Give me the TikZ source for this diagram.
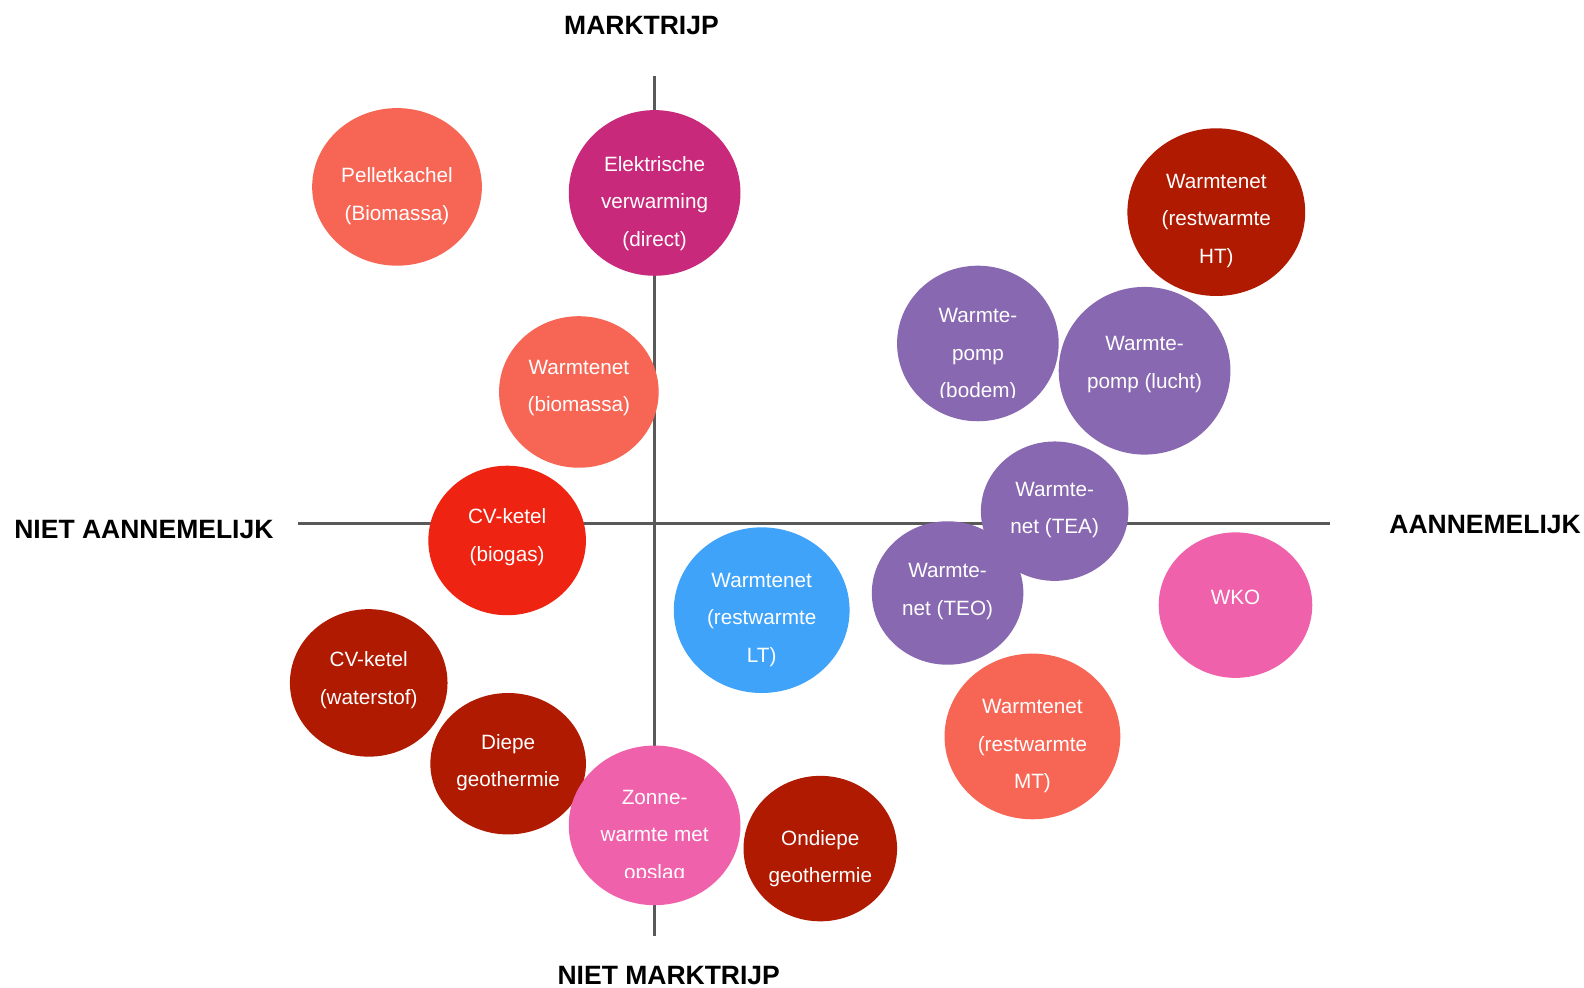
\documentclass[tikz,border=0pt]{standalone}
\usepackage{fontspec}
\setmainfont{Liberation Sans}
\usetikzlibrary{shapes.geometric}
\definecolor{csalmon}{HTML}{F76655}
\definecolor{cmag}{HTML}{C8297B}
\definecolor{cdark}{HTML}{B01A00}
\definecolor{cpurple}{HTML}{8868B0}
\definecolor{cred}{HTML}{EE2312}
\definecolor{cblue}{HTML}{40A3FA}
\definecolor{cpink}{HTML}{F061AB}
\definecolor{caxis}{HTML}{595959}
% name, x, y, rx, ry, colour, text, text y
\newcommand\bub[8]{%
  \node[bubble, fill=#6, minimum width={2*#4*1.0102pt}, minimum height={2*#5*1.0102pt}] (#1) at (#2,#3) {};
  \node[btext] (#1t) at (#2,#8) {#7};
}
\begin{document}
\begin{tikzpicture}[x=1.0102pt,y=-1.0102pt,
  bubble/.style={ellipse, inner sep=0pt, draw=none},
  btext/.style={text=white, align=center, font=\fontsize{20.7}{37.6}\selectfont, inner sep=0pt},
  axislabel/.style={font=\fontsize{26.5}{30}\selectfont\bfseries, text=black, inner sep=0pt},
  axisline/.style={draw=caxis, line width=3.5pt}]
\useasboundingbox (0,0) rectangle (1568,978);
\fill[white] (0,0) rectangle (1568,978);
% axes
\coordinate (vt) at (648,75);
\coordinate (vb) at (648,927);
\coordinate (hl) at (295,518);
\coordinate (hr) at (1317,518);
\draw[axisline] (vt) -- (vb);
\draw[axisline] (hl) -- (hr);
% labels
\node[axislabel] (lt) at (635,25) {MARKTRIJP};
\node[axislabel] (lb) at (662,966) {NIET MARKTRIJP};
\node[axislabel, anchor=west] (ll) at (14,524) {NIET AANNEMELIJK};
\node[axislabel, anchor=east] (lr) at (1565,519) {AANNEMELIJK};
% bubbles
\bub{pel}{393}{185}{84}{78}{csalmon}{Pelletkachel\\(Biomassa)}{194}
\bub{ele}{648}{191}{85}{82}{cmag}{Elektrische\\verwarming\\(direct)}{201.5}
\bub{wht}{1204}{210}{88}{83}{cdark}{Warmtenet\\(restwarmte\\HT)}{218.5}
\node[bubble, fill=cpurple, minimum width={2*80*1.0102pt}, minimum height={2*77*1.0102pt}] (wpb) at (968,340) {};
\begin{scope}
\clip (880,250) rectangle (1060,393);
\node[btext] (wpbt) at (968,351.5) {Warmte-\\pomp\\(bodem)};
\end{scope}
\bub{wpl}{1133}{367}{85}{83}{cpurple}{Warmte-\\pomp (lucht)}{361}
\bub{wbm}{573}{388}{79}{75}{csalmon}{Warmtenet\\(biomassa)}{384}
\bub{tea}{1044}{506}{73}{69}{cpurple}{Warmte-\\net (TEA)}{505}
\bub{cvb}{502}{535}{78}{74}{cred}{CV-ketel\\(biogas)}{531.5}
\bub{wlt}{754}{604}{87}{82}{cblue}{Warmtenet\\(restwarmte\\LT)}{613.5}
\bub{teo}{938}{587}{75}{71}{cpurple}{Warmte-\\net (TEO)}{585.5}
\bub{wko}{1223}{599}{76}{72}{cpink}{WKO}{591.5}
\bub{cvw}{365}{676}{78}{73}{cdark}{CV-ketel\\(waterstof)}{673}
\bub{wmt}{1022}{729}{87}{82}{csalmon}{Warmtenet\\(restwarmte\\MT)}{738.5}
\bub{dge}{503}{756}{77}{70}{cdark}{Diepe\\geothermie}{755}
\node[bubble, fill=cpink, minimum width={2*85*1.0102pt}, minimum height={2*79*1.0102pt}] (zon) at (648,817) {};
\begin{scope}
\clip (560,730) rectangle (740,869);
\node[btext] (zont) at (648,828.5) {Zonne-\\warmte met\\opslag};
\end{scope}
\bub{oge}{812}{840}{76}{72}{cdark}{Ondiepe\\geothermie}{850}
\end{tikzpicture}
\end{document}
